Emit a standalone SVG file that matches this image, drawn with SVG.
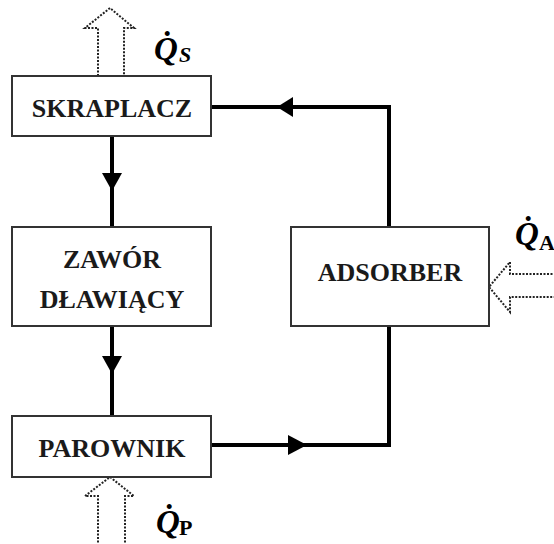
<svg xmlns="http://www.w3.org/2000/svg" width="554" height="544" viewBox="0 0 554 544">
  <defs>
    <style>
      .box { fill: #ffffff; stroke: #333333; stroke-width: 2; }
      .label { font-family: "Liberation Serif", "Times New Roman", serif; font-weight: bold; font-size: 26px; fill: #1a1a1a; text-anchor: middle; }
      .flow { fill: none; stroke: #000000; stroke-width: 4; stroke-linejoin: miter; }
      .head { fill: #000000; stroke: none; }
      .heat { fill: #ffffff; stroke: #222222; stroke-width: 2; stroke-dasharray: 2 1.5; }
      .q { font-family: "Liberation Serif", "Times New Roman", serif; font-weight: bold; font-style: italic; font-size: 33px; fill: #000000; }
      .sub { font-family: "Liberation Serif", "Times New Roman", serif; font-weight: bold; font-size: 22px; fill: #000000; }
    </style>
  </defs>

  <rect width="554" height="544" fill="#ffffff"/>

  <!-- heat flows (dotted hollow arrows) -->
  <g id="heat-flows">
    <path class="heat" d="M98,76 L98,28 L85,28 L110,8 L134,28 L124,28 L124,76"/>
    <path class="heat" d="M98,546 L98,496 L85,496 L110,477 L134,496 L125,496 L125,546"/>
    <path class="heat" d="M556,274 L510,274 L510,262 L489,287 L510,312 L510,297 L556,297"/>
  </g>

  <!-- refrigerant flow connectors -->
  <g id="connectors">
    <line class="flow" x1="112" y1="136" x2="112" y2="227"/>
    <polygon class="head" points="102,173 122,173 112,191"/>
    <line class="flow" x1="112" y1="326" x2="112" y2="416"/>
    <polygon class="head" points="102,356 122,356 112,374"/>
    <polyline class="flow" points="211,445 389,445 389,326"/>
    <polygon class="head" points="288,435 288,455 307,445"/>
    <polyline class="flow" points="389,227 389,107 211,107"/>
    <polygon class="head" points="293,97 293,117 277,107"/>
  </g>

  <g id="skraplacz">
    <rect class="box" x="12" y="76" width="199" height="60"/>
    <text class="label" x="112" y="117">SKRAPLACZ</text>
  </g>

  <g id="zawor">
    <rect class="box" x="12" y="227" width="199" height="99"/>
    <text class="label" x="112" y="268">ZAWÓR</text>
    <text class="label" x="112" y="308">DŁAWIĄCY</text>
  </g>

  <g id="parownik">
    <rect class="box" x="12" y="416" width="199" height="61"/>
    <text class="label" x="112" y="457">PAROWNIK</text>
  </g>

  <g id="adsorber">
    <rect class="box" x="291" y="227" width="198" height="99"/>
    <text class="label" x="390" y="281">ADSORBER</text>
  </g>

  <!-- heat labels -->
  <g id="q-s">
    <text class="q" x="154" y="60">Q̇</text>
    <text class="sub" x="179" y="62" font-style="italic">S</text>
  </g>
  <g id="q-p">
    <text class="q" x="156" y="533">Q̇</text>
    <text class="sub" x="179" y="535">P</text>
  </g>
  <g id="q-a">
    <text class="q" x="515" y="245">Q̇</text>
    <text class="sub" x="539" y="250">A</text>
  </g>
</svg>
